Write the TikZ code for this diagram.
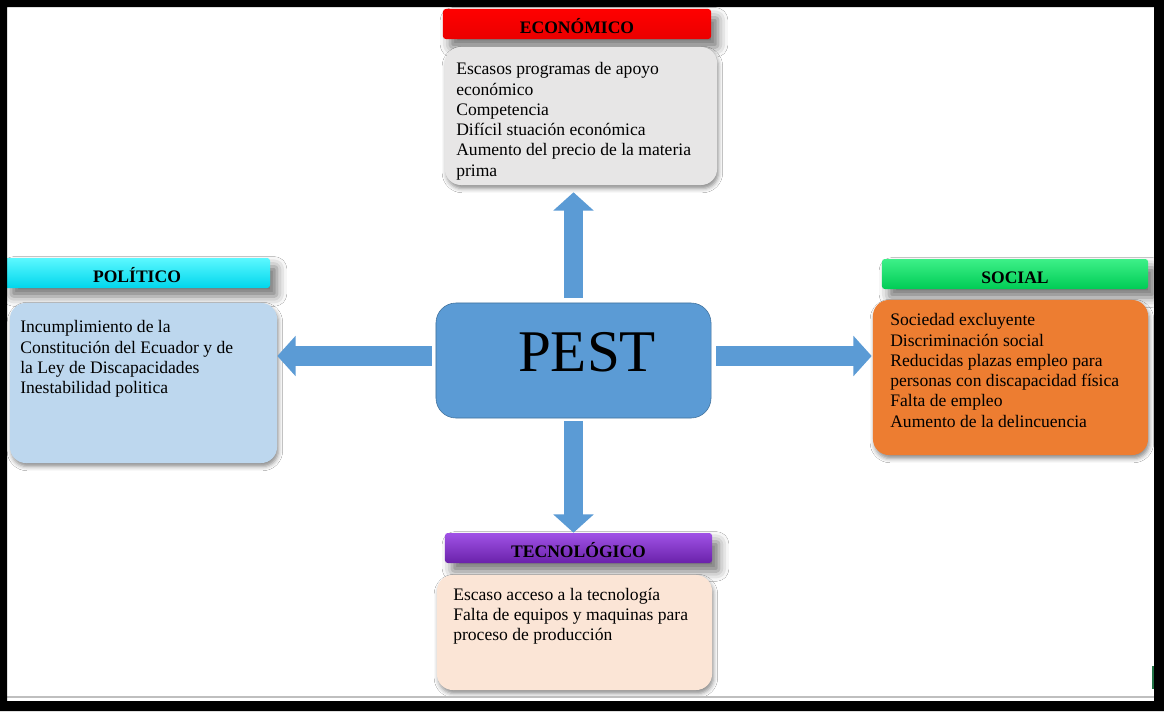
\documentclass[tikz,border=0pt]{standalone}
\usepackage{fontspec}
\setmainfont{Liberation Serif}
\usepackage{tikz}
\usetikzlibrary{arrows.meta, positioning, shadows.blur}
\usepackage{xcolor}

\definecolor{pestblue}{HTML}{5B9BD5}
\definecolor{pestedge}{HTML}{41719C}
\definecolor{ecogray}{HTML}{E7E6E6}
\definecolor{polblue}{HTML}{BDD7EE}
\definecolor{socorange}{HTML}{ED7D31}
\definecolor{tecpeach}{HTML}{FBE5D6}
\definecolor{cyanhi}{HTML}{5CF8FF}
\definecolor{cyanlo}{HTML}{00D6EC}
\definecolor{greenhi}{HTML}{3DF088}
\definecolor{greenlo}{HTML}{00CC55}
\definecolor{purplehi}{HTML}{A052E6}
\definecolor{purplelo}{HTML}{6A22AA}
\definecolor{excelgreen}{HTML}{217346}

\begin{document}
\begin{tikzpicture}[x=0.025cm, y=0.025cm]
    \tikzstyle{header} = [shape=rectangle, rounded corners=2pt, minimum width=6.65cm, minimum height=0.75cm, font=\bfseries\fontsize{12.5}{14}\selectfont, text height=14pt, text depth=0pt, blur shadow={shadow xshift=5pt, shadow yshift=-6pt, shadow blur radius=7pt, shadow opacity=55}];
    \tikzstyle{factbox} = [shape=rectangle, rounded corners=0.4cm, blur shadow={shadow xshift=1pt, shadow yshift=-2.5pt, shadow blur radius=3pt, shadow opacity=45}];
    \tikzstyle{facts} = [anchor=north west, inner sep=0pt, align=left, font=\fontsize{12.5}{14.4}\selectfont];
    \tikzstyle{blockarrow} = [-{Triangle[length=13pt,width=28pt]}, line width=14pt, color=pestblue];

    \useasboundingbox (0,0) rectangle (1164,-711);
    \fill[white] (0,0) rectangle (1164,-711);

    % headers and boxes
    \node[header, top color=red, bottom color=red!92!black, minimum width=6.7cm] (ecohead) at (577,-24) {ECONÓMICO};
    \node[factbox, fill=ecogray, minimum width=6.8cm, minimum height=3.45cm] (eco) at (581,-116) {};
    \node[facts] (ecotext) at (456,-62.5) {Escasos programas de apoyo\\ económico\\ Competencia\\ Difícil stuación económica\\ Aumento del precio de la materia\\ prima};

    \node[header, top color=cyanhi, bottom color=cyanlo] (polhead) at (137,-273) {POLÍTICO};
    \node[factbox, fill=polblue, minimum width=6.675cm, minimum height=4cm] (pol) at (143.5,-383) {};
    \node[facts] (poltext) at (20,-320.5) {Incumplimiento de la\\ Constitución del Ecuador y de\\ la Ley de Discapacidades\\ Inestabilidad politica};

    \node[header, top color=greenhi, bottom color=greenlo] (sochead) at (1015,-274) {SOCIAL};
    \node[factbox, fill=socorange, minimum width=6.875cm, minimum height=3.875cm] (soc) at (1010.5,-377.5) {};
    \node[facts] (soctext) at (890,-313.5) {Sociedad excluyente\\ Discriminación social\\ Reducidas plazas empleo para\\ personas con discapacidad física\\ Falta de empleo\\ Aumento de la delincuencia};

    \node[header, top color=purplehi, bottom color=purplelo, minimum width=6.675cm] (techead) at (578.5,-548) {TECNOLÓGICO};
    \node[factbox, fill=tecpeach, minimum width=6.875cm, minimum height=2.875cm] (tec) at (574.5,-632.5) {};
    \node[facts] (tectext) at (453,-587.5) {Escaso acceso a la tecnología\\ Falta de equipos y maquinas para\\ proceso de producción};

    % centre
    \node[shape=rectangle, rounded corners=0.5cm, fill=pestblue, draw=pestedge, minimum width=6.875cm, minimum height=2.875cm] (pest) at (573.5,-360.5) {};
    \node[font=\fontsize{42}{48}\selectfont, inner sep=0pt] (pesttext) at (587,-352) {PEST};
    \coordinate (pestmid) at (573.5,-356);

    \path
        (pest.north) edge[blockarrow, shorten <=0.125cm, shorten >=0.175cm] (pest.north |- eco.south)
        (pest.south) edge[blockarrow, shorten <=0.075cm] (pest.south |- techead.north)
        (pestmid -| pest.west) edge[blockarrow, shorten <=0.1cm] (pestmid -| pol.east)
        (pestmid -| pest.east) edge[blockarrow, shorten <=0.125cm, shorten >=0.025cm] (pestmid -| soc.west)
    ;

    % window frame
    \fill[excelgreen] (1152,-666) rectangle (1154.5,-689);
    \draw[line width=0.05cm, color=black!25] (7,-697) -- (1154,-697);
    \fill[black, even odd rule] (0,0) rectangle (1164,-711) (7,-7) rectangle (1154,-701);
\end{tikzpicture}
\end{document}
